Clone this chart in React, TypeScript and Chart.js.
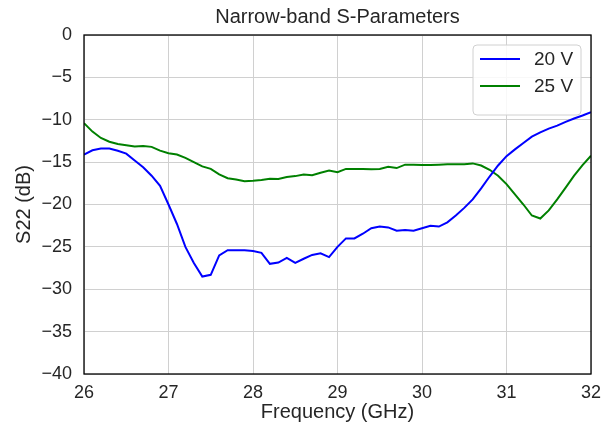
import React, { useEffect, useRef } from "react";
import { Chart, registerables } from "chart.js";

Chart.register(...registerables);

// Frequency sweep (GHz)
const freqGHz = [
  26.0, 26.1, 26.2, 26.3, 26.4, 26.5, 26.6, 26.7, 26.8, 26.9,
  27.0, 27.1, 27.2, 27.3, 27.4, 27.5, 27.6, 27.7, 27.8, 27.9,
  28.0, 28.1, 28.2, 28.3, 28.4, 28.5, 28.6, 28.7, 28.8, 28.9,
  29.0, 29.1, 29.2, 29.3, 29.4, 29.5, 29.6, 29.7, 29.8, 29.9,
  30.0, 30.1, 30.2, 30.3, 30.4, 30.5, 30.6, 30.7, 30.8, 30.9,
  31.0, 31.1, 31.2, 31.3, 31.4, 31.5, 31.6, 31.7, 31.8, 31.9,
  32.0,
];

// S22 (dB) at 20 V bias
const s22At20V = [
  -14.1, -13.6, -13.4, -13.4, -13.65, -14.0, -14.8, -15.6, -16.6, -17.8,
  -20.0, -22.3, -25.0, -26.9, -28.5, -28.3, -26.0, -25.4, -25.4, -25.4,
  -25.5, -25.7, -27.0, -26.85, -26.3, -26.9, -26.4, -25.95, -25.75, -26.2,
  -25.0, -24.0, -24.0, -23.45, -22.8, -22.6, -22.7, -23.1, -23.0, -23.1,
  -22.8, -22.5, -22.6, -22.1, -21.3, -20.4, -19.4, -18.1, -16.7, -15.4,
  -14.3, -13.5, -12.75, -12.0, -11.5, -11.05, -10.7, -10.25, -9.85, -9.5,
  -9.1,
];

// S22 (dB) at 25 V bias
const s22At25V = [
  -10.4, -11.4, -12.15, -12.6, -12.85, -13.0, -13.15, -13.1, -13.2, -13.65,
  -13.95, -14.1, -14.5, -15.0, -15.5, -15.8, -16.45, -16.9, -17.05, -17.25,
  -17.2, -17.1, -16.95, -17.0, -16.75, -16.65, -16.45, -16.55, -16.25, -16.0,
  -16.2, -15.8, -15.8, -15.8, -15.85, -15.8, -15.55, -15.7, -15.3, -15.3,
  -15.35, -15.35, -15.3, -15.25, -15.25, -15.25, -15.15, -15.4, -15.9, -16.6,
  -17.6, -18.8, -20.0, -21.3, -21.65, -20.7, -19.4, -18.0, -16.6, -15.35,
  -14.25,
];

const xTicks = [26, 27, 28, 29, 30, 31, 32];
const yTicks = [0, -5, -10, -15, -20, -25, -30, -35, -40];

const seriesLabels = ["20 V", "25 V"];
const seriesColors = ["#0000ff", "#008000"];

const FONT = "'Liberation Sans', Arial, Helvetica, sans-serif";
const TEXT = "#262626";

const fmtTick = (v: number) => (v < 0 ? "\u2212" + Math.abs(v) : String(v));

// Black box around the plotting area, drawn over the traces
const framePlugin = {
  id: "frame",
  afterDatasetsDraw(chart: any) {
    const { ctx, chartArea } = chart;
    const { left, top, right, bottom } = chartArea;
    ctx.save();
    ctx.strokeStyle = "#000000";
    ctx.lineWidth = 1.3;
    ctx.strokeRect(left, top, right - left, bottom - top);
    ctx.restore();
  },
};

// Framed legend in the upper-right corner of the plot
const boxLegendPlugin = {
  id: "boxLegend",
  afterDraw(chart: any) {
    const { ctx, chartArea } = chart;
    const datasets = chart.data.datasets;
    const boxRight = chartArea.right - 10;
    const boxTop = chartArea.top + 10;
    const boxW = 108;
    const rowH = 27;
    const boxH = 14 + rowH * datasets.length + 2;
    const boxLeft = boxRight - boxW;

    ctx.save();
    ctx.beginPath();
    const r = 4;
    ctx.moveTo(boxLeft + r, boxTop);
    ctx.lineTo(boxRight - r, boxTop);
    ctx.arcTo(boxRight, boxTop, boxRight, boxTop + r, r);
    ctx.lineTo(boxRight, boxTop + boxH - r);
    ctx.arcTo(boxRight, boxTop + boxH, boxRight - r, boxTop + boxH, r);
    ctx.lineTo(boxLeft + r, boxTop + boxH);
    ctx.arcTo(boxLeft, boxTop + boxH, boxLeft, boxTop + boxH - r, r);
    ctx.lineTo(boxLeft, boxTop + r);
    ctx.arcTo(boxLeft, boxTop, boxLeft + r, boxTop, r);
    ctx.closePath();
    ctx.fillStyle = "rgba(255,255,255,0.85)";
    ctx.fill();
    ctx.strokeStyle = "#d0d0d0";
    ctx.lineWidth = 1;
    ctx.stroke();

    ctx.font = `19px ${FONT}`;
    ctx.textBaseline = "middle";
    ctx.textAlign = "left";
    datasets.forEach((ds: any, i: number) => {
      const y = boxTop + 14 + rowH * i;
      ctx.strokeStyle = ds.borderColor;
      ctx.lineWidth = 2;
      ctx.beginPath();
      ctx.moveTo(boxLeft + 7, y);
      ctx.lineTo(boxLeft + 47, y);
      ctx.stroke();
      ctx.fillStyle = TEXT;
      ctx.fillText(ds.label, boxLeft + 61, y + 1);
    });
    ctx.restore();
  },
};

export default function App() {
  const canvasRef = useRef<HTMLCanvasElement | null>(null);

  useEffect(() => {
    const canvas = canvasRef.current;
    if (!canvas) return;

    const series = [s22At20V, s22At25V];
    const chart = new Chart(canvas, {
      type: "line",
      data: {
        datasets: series.map((vals, k) => ({
          label: seriesLabels[k],
          data: freqGHz.map((f, i) => ({ x: f, y: vals[i] })),
          borderColor: seriesColors[k],
          backgroundColor: seriesColors[k],
          borderWidth: 2,
          pointRadius: 0,
          tension: 0,
          fill: false,
        })),
      },
      options: {
        responsive: false,
        animation: false,
        devicePixelRatio: 1,
        layout: { padding: { top: 0, right: 25, bottom: 0, left: 0 } },
        plugins: {
          legend: { display: false },
          tooltip: { enabled: false },
          title: {
            display: true,
            text: "Narrow-band S-Parameters",
            fullSize: false,
            color: TEXT,
            font: { family: FONT, size: 20, weight: "normal" },
            padding: { top: 5, bottom: 6 },
          },
        },
        scales: {
          x: {
            type: "linear",
            min: 26,
            max: 32,
            afterBuildTicks: (s: any) => {
              s.ticks = xTicks.map((v) => ({ value: v }));
            },
            afterFit: (s: any) => {
              s.height = 54;
            },
            grid: { color: "#d0d0d0", lineWidth: 1, drawTicks: false },
            border: { display: false },
            ticks: {
              color: TEXT,
              padding: 8,
              maxRotation: 0,
              font: { family: FONT, size: 18 },
              callback: (v: any) => fmtTick(Number(v)),
            },
            title: {
              display: true,
              text: "Frequency (GHz)",
              color: TEXT,
              font: { family: FONT, size: 20 },
              padding: { top: 0, bottom: 4 },
            },
          },
          y: {
            type: "linear",
            min: -40,
            max: 0,
            afterBuildTicks: (s: any) => {
              s.ticks = yTicks.map((v) => ({ value: v }));
            },
            afterFit: (s: any) => {
              s.width = 84;
            },
            grid: { color: "#d0d0d0", lineWidth: 1, drawTicks: false },
            border: { display: false },
            ticks: {
              color: TEXT,
              padding: 12,
              font: { family: FONT, size: 18 },
              callback: (v: any) => fmtTick(Number(v)),
            },
            title: {
              display: true,
              text: "S22 (dB)",
              color: TEXT,
              font: { family: FONT, size: 20 },
              padding: { top: 12, bottom: 0 },
            },
          },
        },
      },
      plugins: [framePlugin, boxLegendPlugin],
    } as any);

    return () => chart.destroy();
  }, []);

  return (
    <div style={{ position: "absolute", left: 0, top: 0, width: 616, height: 428, background: "#ffffff" }}>
      <canvas ref={canvasRef} width={616} height={428} style={{ width: 616, height: 428, display: "block" }} />
    </div>
  );
}
